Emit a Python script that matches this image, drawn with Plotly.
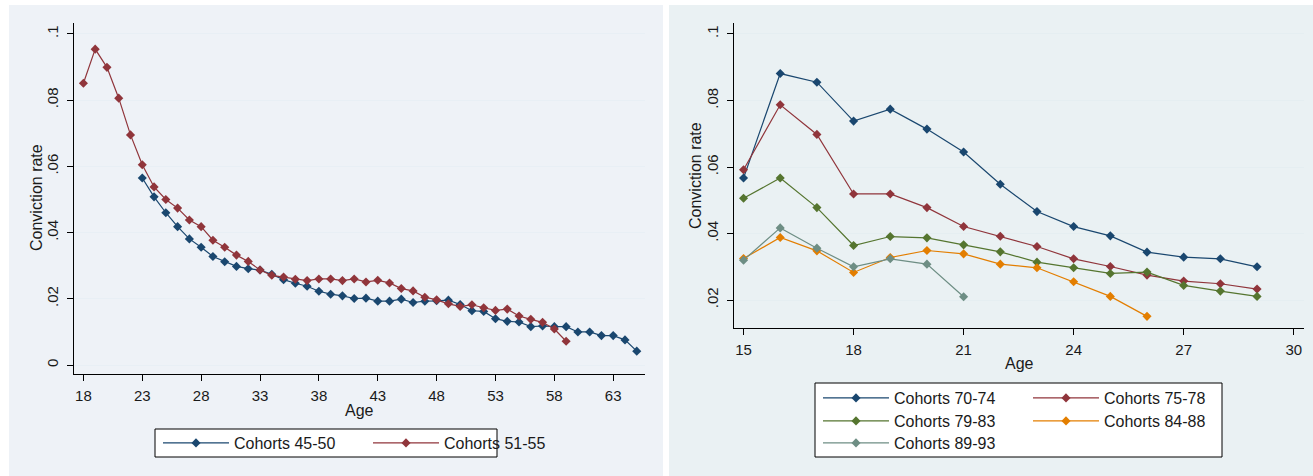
import plotly.graph_objects as go

W, H = 1313, 476

# ---------------- Data ----------------
ages_45_50 = list(range(23, 66))
rate_45_50 = [0.0565, 0.0508, 0.0460, 0.0418, 0.0381, 0.0356, 0.0328, 0.0312, 0.0298, 0.0291,
              0.0287, 0.0274, 0.0258, 0.0247, 0.0238, 0.0223, 0.0214, 0.0209, 0.0201, 0.0202,
              0.0193, 0.0193, 0.0199, 0.0189, 0.0193, 0.0194, 0.0196, 0.0183, 0.0164, 0.0162,
              0.0140, 0.0132, 0.0130, 0.0116, 0.0118, 0.0116, 0.0116, 0.0100, 0.0100, 0.0089,
              0.0089, 0.0076, 0.0042]

ages_51_55 = list(range(18, 60))
rate_51_55 = [0.0851, 0.0954, 0.0899, 0.0806, 0.0695, 0.0605, 0.0538, 0.0500, 0.0474, 0.0438,
              0.0418, 0.0377, 0.0356, 0.0332, 0.0313, 0.0287, 0.0271, 0.0266, 0.0259, 0.0255,
              0.0260, 0.0260, 0.0255, 0.0260, 0.0251, 0.0256, 0.0248, 0.0231, 0.0224, 0.0205,
              0.0197, 0.0185, 0.0177, 0.0182, 0.0173, 0.0165, 0.0169, 0.0148, 0.0138, 0.0129,
              0.0109, 0.0072]

ages_70_74 = list(range(15, 30))
rate_70_74 = [0.0567, 0.0881, 0.0855, 0.0738, 0.0774, 0.0714, 0.0645, 0.0548, 0.0466, 0.0421,
              0.0393, 0.0344, 0.0329, 0.0324, 0.0300]

ages_75_78 = list(range(15, 30))
rate_75_78 = [0.0592, 0.0787, 0.0698, 0.0519, 0.0519, 0.0478, 0.0421, 0.0392, 0.0361, 0.0324,
              0.0301, 0.0275, 0.0257, 0.0249, 0.0233]

ages_79_83 = list(range(15, 30))
rate_79_83 = [0.0506, 0.0567, 0.0478, 0.0364, 0.0391, 0.0387, 0.0366, 0.0345, 0.0314, 0.0297,
              0.0280, 0.0284, 0.0244, 0.0227, 0.0211]

ages_84_88 = list(range(15, 27))
rate_84_88 = [0.0325, 0.0388, 0.0348, 0.0283, 0.0328, 0.0349, 0.0339, 0.0308, 0.0297, 0.0255,
              0.0211, 0.0151]

ages_89_93 = list(range(15, 22))
rate_89_93 = [0.0320, 0.0417, 0.0356, 0.0300, 0.0324, 0.0308, 0.0210]

left_xticks = [18, 23, 28, 33, 38, 43, 48, 53, 58, 63]
left_yticks = [0, 0.02, 0.04, 0.06, 0.08, 0.1]
left_yticktext = ["0", ".02", ".04", ".06", ".08", ".1"]
right_xticks = [15, 18, 21, 24, 27, 30]
right_yticks = [0.02, 0.04, 0.06, 0.08, 0.1]
right_yticktext = [".02", ".04", ".06", ".08", ".1"]

# ---------------- Style ----------------
NAVY = "#1A476F"
MAROON = "#90353B"
GREEN = "#55752F"
ORANGE = "#E37E00"
TEAL = "#6E8E84"
FONT = "Liberation Sans, Arial, sans-serif"
TXT = "#1a1a1a"

def px_x(p):
    return p / W

def px_y(p):
    return 1 - p / H

fig = go.Figure()

def add(x, y, name, color, xa, ya, legend):
    fig.add_trace(go.Scatter(
        x=x, y=y, name=name, mode="lines+markers",
        line=dict(color=color, width=1.2),
        marker=dict(symbol="diamond", size=7, color=color),
        xaxis=xa, yaxis=ya, legend=legend, hoverinfo="x+y+name",
    ))

add(ages_45_50, rate_45_50, "Cohorts 45-50", NAVY, "x", "y", "legend")
add(ages_51_55, rate_51_55, "Cohorts 51-55", MAROON, "x", "y", "legend")
add(ages_70_74, rate_70_74, "Cohorts 70-74", NAVY, "x2", "y2", "legend2")
add(ages_75_78, rate_75_78, "Cohorts 75-78", MAROON, "x2", "y2", "legend2")
add(ages_79_83, rate_79_83, "Cohorts 79-83", GREEN, "x2", "y2", "legend3")
add(ages_84_88, rate_84_88, "Cohorts 84-88", ORANGE, "x2", "y2", "legend3")
add(ages_89_93, rate_89_93, "Cohorts 89-93", TEAL, "x2", "y2", "legend4")

axis_common = dict(
    showline=True, linecolor="#000000", linewidth=1,
    ticks="outside", ticklen=6, tickwidth=1, tickcolor="#000000",
    tickfont=dict(family=FONT, size=15, color=TXT),
    zeroline=False, mirror=False,
)

# left plot area: x 74..645, y 23..374
fig.update_layout(
    xaxis=dict(domain=[px_x(74), px_x(645)], range=[17.2, 65.7], tickvals=left_xticks,
               showgrid=False, anchor="y", ticklabelstandoff=2, **axis_common),
    yaxis=dict(domain=[px_y(374), px_y(23)], range=[-0.0027, 0.1033], tickvals=left_yticks,
               ticktext=left_yticktext, tickangle=-90, showgrid=True, gridcolor="#E8EFF5",
               gridwidth=1, anchor="x", ticklabelstandoff=3, **axis_common),
    xaxis2=dict(domain=[px_x(734), px_x(1304)], range=[14.74, 30.28], tickvals=right_xticks,
                showgrid=False, anchor="y2", ticklabelstandoff=2, **axis_common),
    yaxis2=dict(domain=[px_y(328), px_y(23)], range=[0.0116, 0.1033], tickvals=right_yticks,
                ticktext=right_yticktext, tickangle=-90, showgrid=True, gridcolor="#E5EEF1",
                gridwidth=1, anchor="x2", ticklabelstandoff=3, **axis_common),
)

# panel backgrounds and legend boxes
shapes = [
    dict(type="rect", xref="paper", yref="paper", x0=px_x(9), x1=px_x(663), y0=px_y(476), y1=px_y(5),
         fillcolor="#EEF2F7", line=dict(width=0), layer="below"),
    dict(type="rect", xref="paper", yref="paper", x0=px_x(669), x1=px_x(1313), y0=px_y(476), y1=px_y(5),
         fillcolor="#EAF1F3", line=dict(width=0), layer="below"),
    dict(type="rect", xref="paper", yref="paper", x0=px_x(155), x1=px_x(497), y0=px_y(457), y1=px_y(429),
         fillcolor="#FFFFFF", line=dict(width=1, color="#000000"), layer="below"),
    dict(type="rect", xref="paper", yref="paper", x0=px_x(815), x1=px_x(1222), y0=px_y(457), y1=px_y(383),
         fillcolor="#FFFFFF", line=dict(width=1, color="#000000"), layer="below"),
]

leg_common = dict(orientation="h", bgcolor="rgba(0,0,0,0)", borderwidth=0,
                  font=dict(family=FONT, size=16, color=TXT), itemwidth=66,
                  entrywidth=129, xanchor="left", yanchor="middle", traceorder="normal")

annotations = [
    dict(text="Conviction rate", x=px_x(36), y=px_y(198), xref="paper", yref="paper",
         textangle=-90, showarrow=False, font=dict(family=FONT, size=16, color=TXT),
         xanchor="center", yanchor="middle"),
    dict(text="Age", x=px_x(359), y=px_y(410), xref="paper", yref="paper",
         showarrow=False, font=dict(family=FONT, size=16, color=TXT),
         xanchor="center", yanchor="middle"),
    dict(text="Conviction rate", x=px_x(695), y=px_y(176), xref="paper", yref="paper",
         textangle=-90, showarrow=False, font=dict(family=FONT, size=16, color=TXT),
         xanchor="center", yanchor="middle"),
    dict(text="Age", x=px_x(1019), y=px_y(363), xref="paper", yref="paper",
         showarrow=False, font=dict(family=FONT, size=16, color=TXT),
         xanchor="center", yanchor="middle"),
]

fig.update_layout(
    width=W, height=H,
    margin=dict(l=0, r=0, t=0, b=0),
    paper_bgcolor="#FFFFFF",
    plot_bgcolor="#FFFFFF",
    showlegend=True,
    shapes=shapes,
    annotations=annotations,
    legend=dict(x=px_x(158), y=px_y(443), **leg_common),
    legend2=dict(x=px_x(818), y=px_y(398), **leg_common),
    legend3=dict(x=px_x(818), y=px_y(421), **leg_common),
    legend4=dict(x=px_x(818), y=px_y(443), **leg_common),
    font=dict(family=FONT, color=TXT),
)

fig.write_html("out.html", config={"displayModeBar": False},
               post_script="document.body.style.margin='0';document.body.style.overflow='hidden';")
